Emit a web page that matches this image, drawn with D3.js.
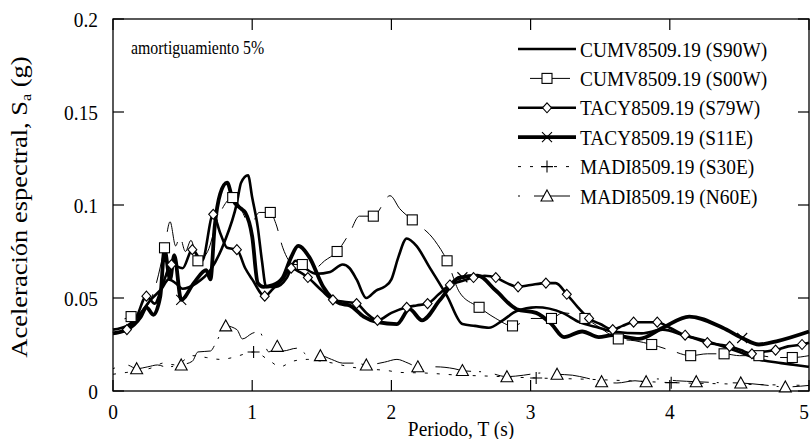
<!DOCTYPE html>
<html><head><meta charset="utf-8">
<script src="https://cdn.jsdelivr.net/npm/d3@7"></script>
<style>
body{margin:0;background:#fff}
svg{display:block}
text{font-family:"Liberation Serif","Times New Roman",serif;fill:#000}
</style></head>
<body><svg id="chart" width="810" height="439"></svg>
<script>
// ---------- data ----------
const xTicks = [0, 1, 2, 3, 4, 5];
const yTicks = [0, 0.05, 0.1, 0.15, 0.2];
const yTickLabels = ["0", "0.05", "0.1", "0.15", "0.2"];
const seriesNames = ["CUMV8509.19 (S90W)", "CUMV8509.19 (S00W)", "TACY8509.19 (S79W)",
                     "TACY8509.19 (S11E)", "MADI8509.19 (S30E)", "MADI8509.19 (N60E)"];

const tS90W = [0,0.1,0.2,0.27,0.35,0.4,0.45,0.5,0.6,0.7,0.8,0.89,0.92,0.97,1.0,1.04,1.07,1.1,1.17,1.25,1.31,1.38,1.46,1.56,1.65,1.7,1.75,1.82,1.89,1.95,2.0,2.05,2.11,2.18,2.27,2.4,2.51,2.6,2.7,2.8,2.9,3.04,3.23,3.35,3.49,3.59,3.8,3.95,4.1,4.3,4.5,4.64,4.8,4.9,5.0];
const saS90W = [0.033,0.035,0.042,0.049,0.055,0.06,0.058,0.055,0.058,0.065,0.08,0.101,0.112,0.116,0.104,0.088,0.070,0.056,0.056,0.061,0.070,0.066,0.063,0.064,0.068,0.066,0.060,0.050,0.054,0.056,0.060,0.072,0.082,0.078,0.067,0.051,0.036,0.035,0.034,0.038,0.043,0.045,0.042,0.037,0.034,0.032,0.031,0.033,0.030,0.026,0.021,0.017,0.015,0.014,0.013];

const tS00W = [0,0.13,0.2,0.3,0.37,0.41,0.45,0.48,0.52,0.56,0.61,0.68,0.75,0.8,0.86,0.92,0.96,1.0,1.05,1.13,1.17,1.22,1.3,1.36,1.45,1.52,1.61,1.7,1.77,1.87,1.99,2.06,2.15,2.31,2.4,2.49,2.63,2.75,2.87,3.01,3.15,3.23,3.39,3.5,3.63,3.75,3.87,4.0,4.15,4.27,4.39,4.5,4.64,4.76,4.88,5.0];
const saS00W = [0.037,0.040,0.042,0.055,0.077,0.091,0.078,0.083,0.075,0.081,0.070,0.075,0.092,0.100,0.104,0.098,0.092,0.091,0.096,0.096,0.090,0.077,0.068,0.068,0.066,0.070,0.075,0.085,0.094,0.094,0.105,0.098,0.092,0.081,0.070,0.053,0.045,0.039,0.035,0.039,0.039,0.042,0.039,0.034,0.028,0.027,0.025,0.022,0.019,0.020,0.020,0.019,0.019,0.018,0.018,0.019];
const mS00W = [0.13,0.37,0.61,0.86,1.13,1.36,1.61,1.87,2.15,2.40,2.63,2.87,3.15,3.39,3.63,3.87,4.15,4.39,4.64,4.88];

const tS79W = [0,0.1,0.17,0.24,0.3,0.36,0.42,0.5,0.57,0.64,0.72,0.77,0.82,0.89,0.95,1.0,1.09,1.15,1.22,1.28,1.34,1.4,1.5,1.58,1.66,1.75,1.82,1.9,2.0,2.11,2.18,2.26,2.34,2.42,2.5,2.59,2.67,2.75,2.83,2.91,3.0,3.11,3.18,3.26,3.34,3.42,3.5,3.59,3.66,3.74,3.82,3.91,4.0,4.11,4.19,4.27,4.35,4.43,4.51,4.59,4.67,4.76,4.85,4.95,5.0];
const saS79W = [0.031,0.033,0.04,0.051,0.047,0.058,0.068,0.066,0.076,0.070,0.095,0.085,0.077,0.076,0.066,0.06,0.051,0.055,0.06,0.066,0.064,0.061,0.054,0.049,0.048,0.047,0.042,0.038,0.042,0.045,0.046,0.047,0.052,0.057,0.059,0.061,0.062,0.061,0.058,0.056,0.057,0.058,0.058,0.052,0.045,0.039,0.036,0.033,0.035,0.037,0.037,0.037,0.034,0.030,0.028,0.026,0.025,0.024,0.022,0.020,0.021,0.022,0.024,0.025,0.026];
const mS79W = [0.10,0.24,0.42,0.57,0.72,0.89,1.09,1.28,1.40,1.58,1.75,1.90,2.11,2.26,2.42,2.59,2.75,2.91,3.11,3.26,3.42,3.59,3.74,3.91,4.11,4.27,4.43,4.59,4.76,4.95];

const tS11E = [0,0.1,0.2,0.24,0.29,0.34,0.37,0.41,0.44,0.49,0.58,0.67,0.7,0.73,0.77,0.82,0.86,0.92,0.95,1.0,1.04,1.08,1.15,1.22,1.28,1.33,1.41,1.51,1.63,1.7,1.8,1.9,2.04,2.13,2.22,2.35,2.49,2.62,2.75,2.9,3.04,3.15,3.24,3.37,3.49,3.59,3.78,3.95,4.14,4.38,4.52,4.64,4.78,5.0];
const saS11E = [0.031,0.033,0.040,0.045,0.041,0.051,0.076,0.060,0.073,0.049,0.058,0.065,0.060,0.088,0.106,0.112,0.103,0.098,0.096,0.083,0.058,0.056,0.057,0.061,0.072,0.078,0.072,0.056,0.047,0.046,0.040,0.037,0.036,0.044,0.038,0.049,0.061,0.062,0.054,0.044,0.042,0.036,0.029,0.032,0.029,0.030,0.028,0.034,0.040,0.034,0.0285,0.025,0.027,0.032];
const mS11E = [0.49,2.51,4.52];

const tS30E = [0,0.1,0.2,0.3,0.36,0.45,0.57,0.67,0.77,0.86,0.95,1.01,1.13,1.2,1.29,1.4,1.5,1.58,1.7,1.8,1.97,2.06,2.23,2.47,2.7,3.04,3.37,3.7,4.01,4.3,4.6,5.0];
const saS30E = [0.009,0.010,0.011,0.013,0.015,0.014,0.019,0.018,0.017,0.018,0.020,0.021,0.016,0.013,0.016,0.017,0.016,0.015,0.013,0.012,0.011,0.010,0.0097,0.0086,0.008,0.007,0.0064,0.0055,0.0045,0.004,0.0035,0.003];
const mS30E = [1.01,3.04,4.01];

const tN60E = [0,0.1,0.17,0.25,0.32,0.38,0.49,0.57,0.61,0.70,0.74,0.81,0.89,0.93,1.0,1.05,1.12,1.18,1.22,1.32,1.41,1.49,1.57,1.65,1.75,1.82,1.95,2.04,2.12,2.19,2.32,2.45,2.51,2.69,2.83,2.95,3.08,3.19,3.3,3.4,3.51,3.62,3.75,3.83,3.9,4.05,4.19,4.35,4.51,4.67,4.83,5.0];
const saN60E = [0.012,0.014,0.012,0.013,0.014,0.013,0.014,0.016,0.021,0.0215,0.026,0.035,0.033,0.028,0.031,0.032,0.021,0.024,0.0215,0.023,0.019,0.019,0.017,0.015,0.015,0.014,0.0155,0.017,0.015,0.013,0.013,0.012,0.011,0.010,0.0077,0.0085,0.0097,0.009,0.0085,0.007,0.005,0.0043,0.0055,0.005,0.0065,0.0055,0.005,0.0045,0.0043,0.0033,0.0022,0.003];
const mN60E = [0.17,0.49,0.81,1.18,1.49,1.82,2.19,2.51,2.83,3.19,3.51,3.83,4.19,4.51,4.83];

// ---------- layout / styles ----------
const m = {left:113, top:19, right:809, bottom:391};
const SX = 0.88; // horizontal compression of glyphs
const svg = d3.select("#chart");
const x = d3.scaleLinear().domain([0,5]).range([m.left, m.right]);
const y = d3.scaleLinear().domain([0,0.2]).range([m.bottom, m.top]);

const series = [
  {name:seriesNames[0], t:tS90W, v:saS90W, m:[],    w:2.6, dash:null, mark:null},
  {name:seriesNames[1], t:tS00W, v:saS00W, m:mS00W, w:1,   dash:"40,12", off:40, mark:"square"},
  {name:seriesNames[2], t:tS79W, v:saS79W, m:mS79W, w:2.6, dash:null, mark:"diamond"},
  {name:seriesNames[3], t:tS11E, v:saS11E, m:mS11E, w:3.8, dash:null, mark:"x"},
  {name:seriesNames[4], t:tS30E, v:saS30E, m:mS30E, w:1,   dash:"3,9", off:0, mark:"plus"},
  {name:seriesNames[5], t:tN60E, v:saN60E, m:mN60E, w:1,   dash:"2,14,36,8", off:0, mark:"triangle"}
];

function txt(g, s, tx, ty, size, anchor){
  const gg = g.append("g").attr("transform", `translate(${tx},${ty}) scale(${SX},1)`);
  return gg.append("text").attr("font-size", size).attr("text-anchor", anchor||"start").text(s);
}

// plot frame
svg.append("rect").attr("x", m.left).attr("y", m.top)
  .attr("width", m.right-m.left).attr("height", m.bottom-m.top)
  .attr("fill","none").attr("stroke","#000").attr("stroke-width",1.3);

// ticks (inward on all sides)
const tk = svg.append("g").attr("stroke","#000").attr("stroke-width",1.2);
xTicks.forEach(t=>{
  tk.append("line").attr("x1",x(t)).attr("x2",x(t)).attr("y1",m.bottom).attr("y2",m.bottom-11);
  tk.append("line").attr("x1",x(t)).attr("x2",x(t)).attr("y1",m.top).attr("y2",m.top+11);
});
yTicks.forEach(v=>{
  tk.append("line").attr("x1",m.left).attr("x2",m.left+11).attr("y1",y(v)).attr("y2",y(v));
  tk.append("line").attr("x1",m.right).attr("x2",m.right-11).attr("y1",y(v)).attr("y2",y(v));
});

// tick labels
const lab = svg.append("g");
xTicks.forEach((t,i)=> {
  const last = i===xTicks.length-1;
  txt(lab, String(t), last ? 809 : x(t), 419, 22, last ? "end" : "middle");
});
yTicks.forEach((v,i)=> txt(lab, yTickLabels[i], 98, y(v)+7.5, 22, "end"));

// axis titles
txt(svg, "Periodo, T (s)", (m.left+m.right)/2, 436, 22, "middle");
const yt = svg.append("g").attr("transform", `translate(27,${(m.top+m.bottom)/2+2}) rotate(-90) scale(1,${SX})`)
  .append("text").attr("font-size", 26.5).attr("text-anchor","middle");
yt.append("tspan").text("Aceleración espectral, S");
yt.append("tspan").attr("font-size",16).attr("dy",5).text("a");
yt.append("tspan").attr("dy",-5).text(" (g)");

txt(svg, "amortiguamiento 5%", 131, 54, 18, "start");

// marker drawing
function drawMarker(g, type, cx, cy){
  const s = 5;
  if(type==="square") g.append("rect").attr("x",cx-s).attr("y",cy-s).attr("width",2*s).attr("height",2*s)
      .attr("fill","#fff").attr("stroke","#000").attr("stroke-width",1.1);
  else if(type==="diamond") g.append("path").attr("d",`M${cx},${cy-5}L${cx+4.5},${cy}L${cx},${cy+5}L${cx-4.5},${cy}Z`)
      .attr("fill","#fff").attr("stroke","#000").attr("stroke-width",1.1);
  else if(type==="triangle") g.append("path").attr("d",`M${cx},${cy-6}L${cx+6},${cy+5}L${cx-6},${cy+5}Z`)
      .attr("fill","#fff").attr("stroke","#000").attr("stroke-width",1.1);
  else if(type==="x") g.append("path").attr("d",`M${cx-5},${cy-5}L${cx+5},${cy+5}M${cx-5},${cy+5}L${cx+5},${cy-5}`)
      .attr("stroke","#000").attr("stroke-width",1.1);
  else if(type==="plus") g.append("path").attr("d",`M${cx-6},${cy}L${cx+6},${cy}M${cx},${cy-6}L${cx},${cy+6}`)
      .attr("stroke","#000").attr("stroke-width",1.1);
}

const line = d3.line().x(d=>x(d[0])).y(d=>y(d[1])).curve(d3.curveMonotoneX);
const plot = svg.append("g");
const drawOrder = [5,4,1,0,2,3];
drawOrder.forEach(i=>{
  const s = series[i];
  const pts = s.t.map((t,k)=>[t, s.v[k]]);
  plot.append("path").datum(pts).attr("d", line).attr("fill","none").attr("stroke","#000")
    .attr("stroke-width", s.w).attr("stroke-linejoin","round")
    .attr("stroke-dasharray", s.dash).attr("stroke-dashoffset", s.off||0);
});
drawOrder.forEach(i=>{
  const s = series[i];
  const interp = d3.scaleLinear().domain(s.t).range(s.v);
  s.m.forEach(t=> drawMarker(plot, s.mark, x(t), y(interp(t))));
});

// legend
const leg = svg.append("g");
const legY0 = 49, legDy = 29.4, lx1 = 518, lx2 = 576;
series.forEach((s,i)=>{
  const yy = legY0 + i*legDy;
  leg.append("line").attr("x1",lx1).attr("x2",lx2).attr("y1",yy).attr("y2",yy)
    .attr("stroke","#000").attr("stroke-width",s.w).attr("stroke-dasharray",s.dash).attr("stroke-dashoffset",s.off||0);
  if(s.mark) drawMarker(leg, s.mark, 547, yy);
  txt(leg, s.name, 580, yy+7.5, 22, "start");
});
</script></body></html>
